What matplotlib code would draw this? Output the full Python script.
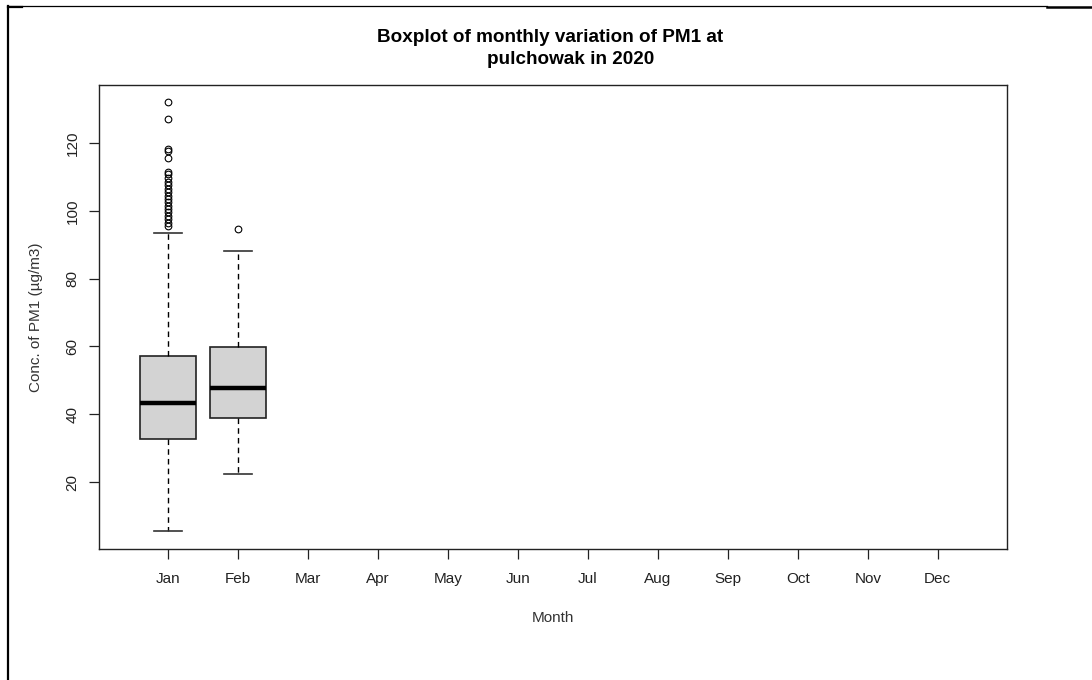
import matplotlib
matplotlib.use("Agg")
import matplotlib.pyplot as plt
from matplotlib.lines import Line2D

plt.rcParams['font.family'] = ['Liberation Sans', 'DejaVu Sans']

months = ['Jan', 'Feb', 'Mar', 'Apr', 'May', 'Jun', 'Jul', 'Aug', 'Sep', 'Oct', 'Nov', 'Dec']
box_months = ['Jan', 'Feb']
q1 = [32.7, 38.8]
medians = [43.4, 47.8]
q3 = [57.2, 59.7]
whisk_lo = [5.5, 22.4]
whisk_hi = [93.5, 88.2]
outliers_jan = [132.0, 127.1, 118.2, 117.7, 115.5, 111.5, 110.9, 109.6, 108.5, 107.5,
                106.5, 105.5, 104.5, 103.5, 102.5, 101.5, 100.5, 99.5, 98.5, 97.5,
                96.5, 95.5]
outliers_feb = [94.6]
outliers = [outliers_jan, outliers_feb]
yticks = [20, 40, 60, 80, 100, 120]

title_line1 = "Boxplot of monthly variation of PM1 at"
title_line2 = "pulchowak in 2020"
xlabel = "Month"
ylabel = "Conc. of PM1 (µg/m3)"

W, H = 1092, 680
fig = plt.figure(figsize=(W / 100, H / 100), dpi=100)
ax = fig.add_axes([99 / W, 1 - 549 / H, (1007 - 99) / W, (549 - 85) / H])

stats = []
for i, m in enumerate(box_months):
    stats.append(dict(label=m, q1=q1[i], med=medians[i], q3=q3[i],
                      whislo=whisk_lo[i], whishi=whisk_hi[i], fliers=outliers[i]))
positions = [months.index(m) + 1 for m in box_months]

ax.bxp(stats, positions=positions, widths=0.8, patch_artist=True,
       showfliers=True, manage_ticks=False,
       boxprops=dict(facecolor='#D3D3D3', edgecolor='#222222', linewidth=1.2),
       medianprops=dict(color='black', linewidth=3.2, solid_capstyle='butt'),
       whiskerprops=dict(color='black', linewidth=1, linestyle=(0, (4, 3))),
       capprops=dict(color='#333333', linewidth=1.2),
       capwidths=0.4,
       flierprops=dict(marker='o', markersize=4.8, markerfacecolor='none',
                       markeredgecolor='black', markeredgewidth=0.8, linestyle='none'))

ax.set_xlim(0.01, 12.99)
ax.set_ylim(0.24, 137.1)
ax.set_xticks(range(1, len(months) + 1))
ax.set_xticklabels(months)
ax.set_yticks(yticks)
ax.set_yticklabels([str(v) for v in yticks], rotation=90, va='center')
ax.tick_params(axis='both', length=7, width=0.9, labelsize=11, colors='#222222')
ax.tick_params(axis='x', pad=9.5)
ax.tick_params(axis='y', pad=7)
for s in ax.spines.values():
    s.set_color('#222222')
    s.set_linewidth(1.0)

ax.set_xlabel(xlabel, fontsize=11, color='#333333', labelpad=18)
ax.set_ylabel(ylabel, fontsize=11, color='#333333', labelpad=16)

fig.text(550 / W, 1 - 37 / H, title_line1, ha='center', va='center', fontsize=13.6,
         fontweight='bold')
fig.text(571 / W, 1 - 59 / H, title_line2, ha='center', va='center', fontsize=13.6,
         fontweight='bold')

# screenshot frame lines
fig.add_artist(Line2D([8 / W, 8 / W], [1 - 6 / H, 0], transform=fig.transFigure,
                      color='black', linewidth=1.6))
fig.add_artist(Line2D([8 / W, 1047 / W], [1 - 6 / H, 1 - 6 / H], transform=fig.transFigure,
                      color='black', linewidth=0.9))
fig.add_artist(Line2D([8 / W, 22 / W], [1 - 6.5 / H, 1 - 6.5 / H], transform=fig.transFigure,
                      color='black', linewidth=1.6))
fig.add_artist(Line2D([1047 / W, 1 / 1.0], [1 - 6.5 / H, 1 - 6.5 / H], transform=fig.transFigure,
                      color='black', linewidth=1.8))

fig.savefig('out.png', dpi=100)
